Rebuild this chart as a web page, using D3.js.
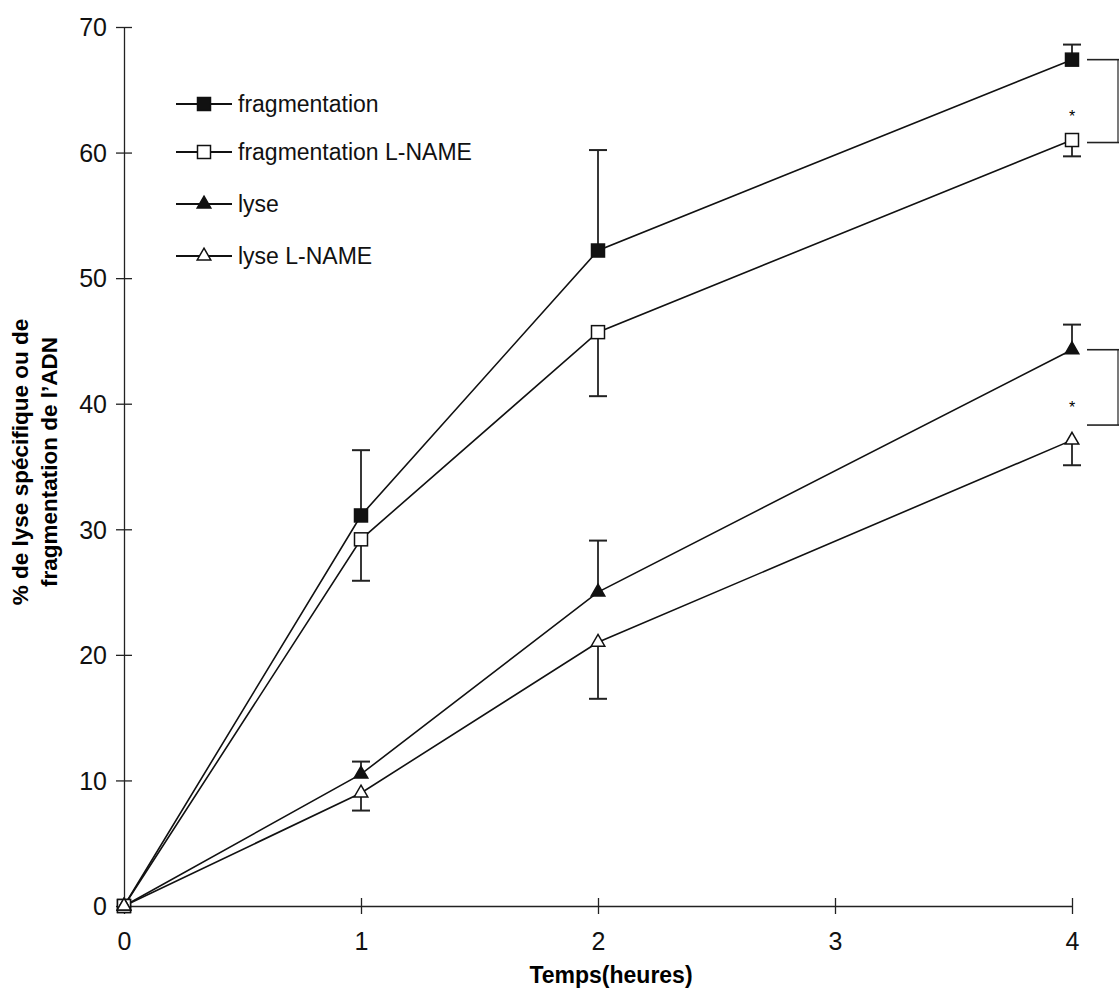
<!DOCTYPE html>
<html><head><meta charset="utf-8">
<script src="https://cdn.jsdelivr.net/npm/d3@7"></script>
<style>body{margin:0;background:#fff}svg{display:block}</style>
</head><body>
<svg id="c" width="1119" height="995"></svg>
<script>
const hours = [0, 1, 2, 4];
const xTicks = [0, 1, 2, 3, 4];
const yTicks = [0, 10, 20, 30, 40, 50, 60, 70];
const seriesNames = ["fragmentation", "fragmentation L-NAME", "lyse", "lyse L-NAME"];
const fragValues = [0, 31.1, 52.2, 67.4];
const fragErrUp = [null, 36.3, 60.2, 68.6];
const fragLValues = [0, 29.2, 45.7, 61.0];
const fragLErrDown = [null, 25.9, 40.6, 59.7];
const lyseValues = [0, 10.5, 25.0, 44.3];
const lyseErrUp = [null, 11.5, 29.1, 46.3];
const lyseLValues = [0, 9.0, 21.0, 37.1];
const lyseLErrDown = [null, 7.6, 16.5, 35.1];
const asteriskValues = [63.0, 39.8]; // at 4h
const bracketValues = [[67.4, 60.8], [44.3, 38.3]];

const svg = d3.select("#c");
const x = d3.scaleLinear().domain([0, 4]).range([124, 1072]);
const y = d3.scaleLinear().domain([0, 70]).range([906, 27]);
const font = "'Liberation Sans', Arial, Helvetica, sans-serif";

// axes
const yAx = svg.append("g").attr("transform", `translate(${x(0)},0)`)
  .call(d3.axisLeft(y).tickValues(yTicks).tickFormat(d3.format("d")).tickSizeInner(8).tickSizeOuter(0).tickPadding(9));
yAx.selectAll(".tick line").attr("x2", 8).attr("x1", -8);
const xAx = svg.append("g").attr("transform", `translate(0,${y(0)})`)
  .call(d3.axisBottom(x).tickValues(xTicks).tickFormat(d3.format("d")).tickSizeInner(8).tickSizeOuter(0).tickPadding(18));
xAx.selectAll(".tick line").attr("y1", -8).attr("y2", 8);
svg.selectAll(".domain").attr("stroke", "#222").attr("stroke-width", 1.3);
svg.selectAll(".tick line").attr("stroke", "#222").attr("stroke-width", 1.3);
svg.selectAll(".tick text").attr("font-family", font).attr("font-size", 25).attr("fill", "#111");
yAx.selectAll(".tick text").attr("dy", "0.35em");

// axis titles
svg.append("text").attr("x", 611).attr("y", 983).attr("text-anchor", "middle")
  .attr("font-family", font).attr("font-weight", "bold").attr("font-size", 23).text("Temps(heures)");
const yt = svg.append("text").attr("transform", "translate(0,462) rotate(-90)")
  .attr("text-anchor", "middle").attr("font-family", font).attr("font-weight", "bold").attr("font-size", 22.5);
yt.append("tspan").attr("x", 0).attr("y", 28).text("% de lyse spécifique ou de");
yt.append("tspan").attr("x", 0).attr("y", 57).text("fragmentation de l’ADN");

const series = [
  {name: seriesNames[0], vals: fragValues, err: fragErrUp, shape: "square", fill: "#111"},
  {name: seriesNames[1], vals: fragLValues, err: fragLErrDown, shape: "square", fill: "#fff"},
  {name: seriesNames[2], vals: lyseValues, err: lyseErrUp, shape: "triangle", fill: "#111"},
  {name: seriesNames[3], vals: lyseLValues, err: lyseLErrDown, shape: "triangle", fill: "#fff"}
];

const line = d3.line().x((d, i) => x(hours[i])).y(d => y(d));
function marker(g, s, cx, cy) {
  if (s.shape === "square") {
    g.append("rect").attr("x", cx - 6.5).attr("y", cy - 6.5).attr("width", 13).attr("height", 13)
      .attr("fill", s.fill).attr("stroke", "#111").attr("stroke-width", 1.5);
  } else {
    g.append("path").attr("d", d3.symbol(d3.symbolTriangle, 80)())
      .attr("transform", `translate(${cx},${cy})`)
      .attr("fill", s.fill).attr("stroke", "#111").attr("stroke-width", 1.5);
  }
}

series.forEach(s => {
  s.err.forEach((e, i) => {
    if (e == null) return;
    svg.append("line").attr("x1", x(hours[i])).attr("x2", x(hours[i]))
      .attr("y1", y(s.vals[i])).attr("y2", y(e)).attr("stroke", "#222").attr("stroke-width", 1.8);
    svg.append("line").attr("x1", x(hours[i]) - 9).attr("x2", x(hours[i]) + 9)
      .attr("y1", y(e)).attr("y2", y(e)).attr("stroke", "#222").attr("stroke-width", 2);
  });
  svg.append("path").attr("d", line(s.vals)).attr("fill", "none").attr("stroke", "#111").attr("stroke-width", 1.6);
});
series.forEach(s => {
  s.vals.forEach((v, i) => marker(svg, s, x(hours[i]), y(v)));
});

// asterisks
asteriskValues.forEach(v => {
  svg.append("text").attr("x", x(4)).attr("y", y(v) + 7).attr("text-anchor", "middle")
    .attr("font-family", font).attr("font-size", 16).text("*");
});
// significance brackets (cut at right edge)
bracketValues.forEach(([a, b]) => {
  [a, b].forEach(v => svg.append("line").attr("x1", 1087).attr("x2", 1119)
    .attr("y1", y(v)).attr("y2", y(v)).attr("stroke", "#222").attr("stroke-width", 1.6));
  svg.append("line").attr("x1", 1118).attr("x2", 1118).attr("y1", y(a)).attr("y2", y(b))
    .attr("stroke", "#222").attr("stroke-width", 1.2);
});

// legend
const legendY = [104, 152, 204, 256];
series.forEach((s, i) => {
  const g = svg.append("g");
  g.append("line").attr("x1", 176).attr("x2", 232).attr("y1", legendY[i]).attr("y2", legendY[i])
    .attr("stroke", "#111").attr("stroke-width", 1.8);
  marker(g, s, 204, legendY[i]);
  g.append("text").attr("x", 238).attr("y", legendY[i]).attr("dy", "0.35em")
    .attr("font-family", font).attr("font-size", 23).attr("fill", "#111").text(s.name);
});
</script>
</body></html>
